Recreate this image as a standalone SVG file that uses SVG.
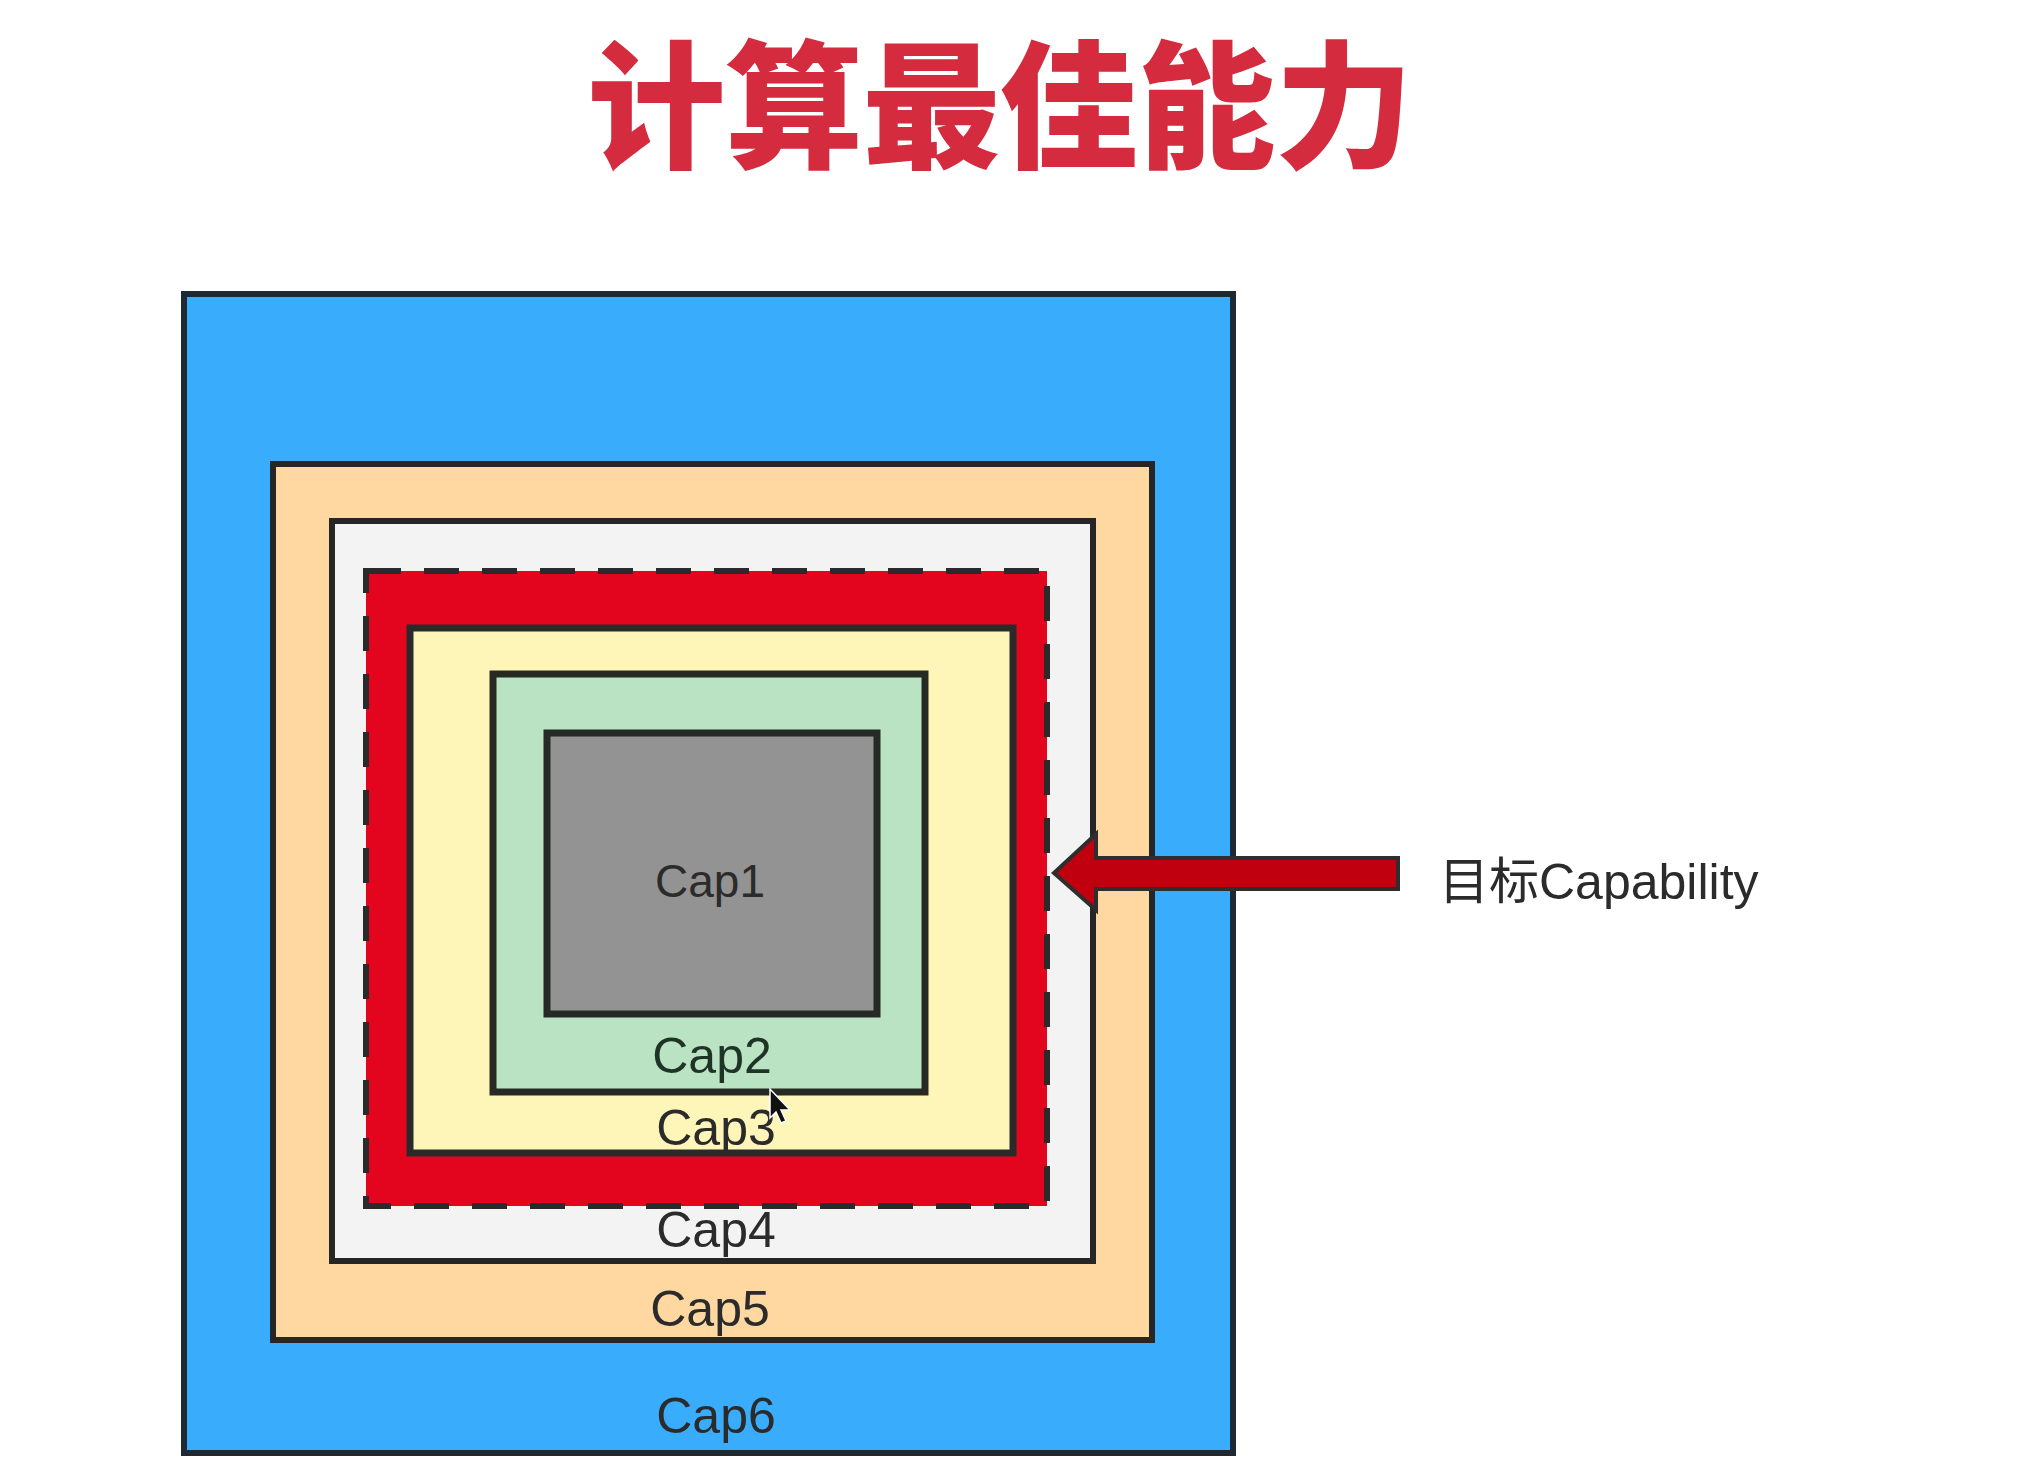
<svg xmlns="http://www.w3.org/2000/svg" width="2024" height="1468" viewBox="0 0 2024 1468">
<style>
.box{stroke:#262626;stroke-width:6}
.lbl{font-family:"Liberation Sans","Noto Sans",Arial,sans-serif;font-size:50px;text-anchor:middle;fill:#2b2b2b}
.title{font-family:"Noto Sans CJK SC","Noto Sans",sans-serif;font-weight:900;font-size:138px;text-anchor:middle;fill:#D42B3E}
.side{font-family:"Liberation Sans","Noto Sans CJK SC",sans-serif;font-size:50px;fill:#2b2b2b}
</style>
<rect width="2024" height="1468" fill="#ffffff"/>
<text class="title" x="1000" y="157" letter-spacing="-0.5">计算最佳能力</text>
<g id="cap6">
<rect class="box" x="184" y="294" width="1049" height="1159" fill="#3AACFC" style="stroke:#1e2a33"/>
<text class="lbl" x="716" y="1433">Cap6</text>
</g>
<g id="cap5">
<rect class="box" x="273" y="464" width="879" height="876" fill="#FED8A0"/>
<text class="lbl" x="710" y="1326">Cap5</text>
</g>
<g id="cap4">
<rect class="box" x="332" y="521" width="761" height="740" fill="#F3F3F3"/>
<text class="lbl" x="716" y="1247">Cap4</text>
</g>
<g id="target">
<rect x="366" y="571" width="681" height="635" fill="#E3051E" stroke="#2a2a2a" stroke-width="6" stroke-dasharray="35 23"/>
</g>
<g id="cap3">
<rect x="410" y="628" width="603" height="525" fill="#FEF6B8" stroke="#2a2a2a" stroke-width="7"/>
<text class="lbl" x="716" y="1145">Cap3</text>
</g>
<g id="cap2">
<rect x="493" y="674" width="432" height="418" fill="#B9E3C3" stroke="#262a22" stroke-width="7"/>
<text class="lbl" x="712" y="1073" style="fill:#1f3326">Cap2</text>
</g>
<g id="cap1">
<rect x="547" y="733" width="330" height="281" fill="#939393" stroke="#262a26" stroke-width="7"/>
<text class="lbl" x="710" y="897" style="font-size:46px">Cap1</text>
</g>
<g id="connectors">
<path d="M1398,858 L1096,858 L1096,834 L1054,873 L1096,910 L1096,889 L1398,889 Z" fill="#C0000E" stroke="#2e2e2e" stroke-width="4" stroke-linejoin="miter"/>
</g>
<g id="label">
<text class="side" x="1439" y="899">目标Capability</text>
</g>
<g id="cursor">
<path d="M770,1089 L770,1118 L776,1112 L781,1123 L786,1121 L781,1110 L790,1110 Z" fill="#111" stroke="#fff" stroke-width="1.5"/>
</g>
</svg>
